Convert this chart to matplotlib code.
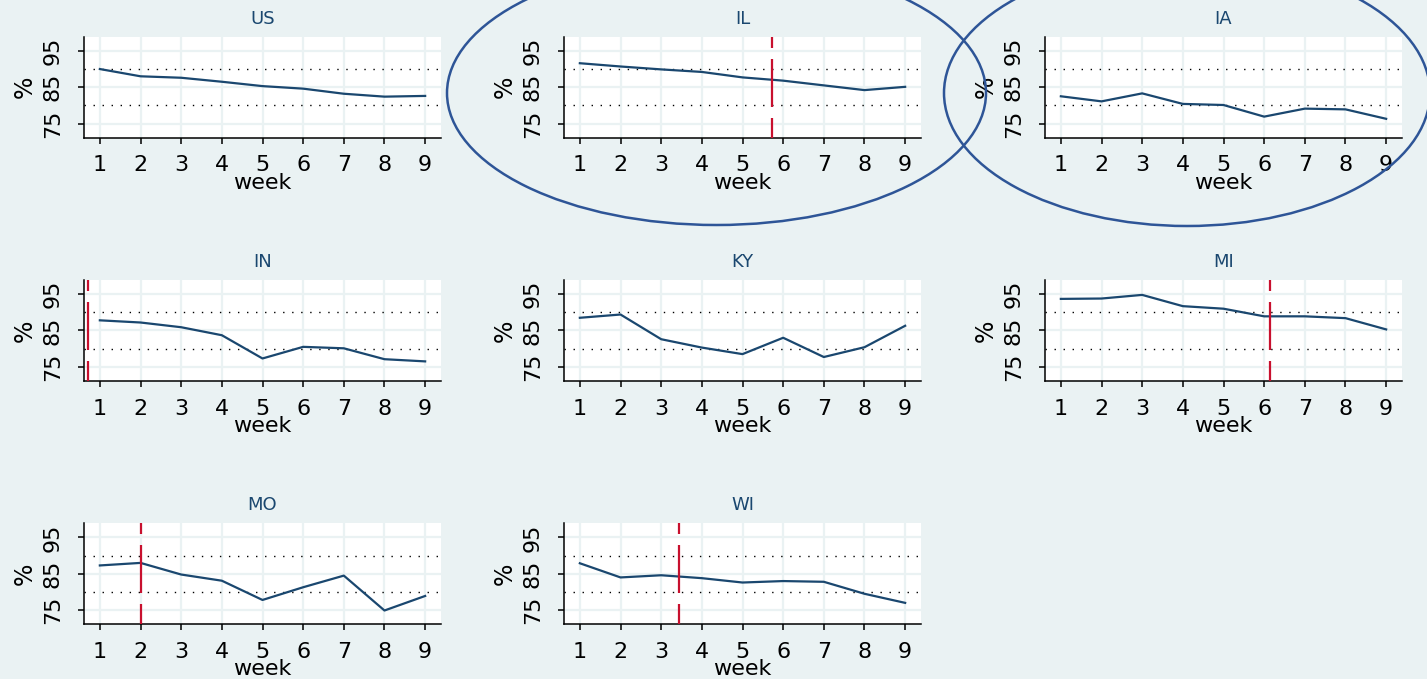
import matplotlib
matplotlib.use("Agg")
import matplotlib.pyplot as plt
from matplotlib.patches import Ellipse

# ---- data ----
weeks = [1, 2, 3, 4, 5, 6, 7, 8, 9]
states = ["US", "IL", "IA", "IN", "KY", "MI", "MO", "WI"]
us = [90.0, 88.0, 87.6, 86.5, 85.3, 84.6, 83.2, 82.4, 82.6]
il = [91.6, 90.7, 89.9, 89.2, 87.7, 86.8, 85.5, 84.2, 85.1]
ia = [82.5, 81.1, 83.3, 80.4, 80.1, 76.9, 79.1, 78.9, 76.3]
in_ = [87.8, 87.2, 85.9, 83.7, 77.3, 80.5, 80.1, 77.1, 76.5]
ky = [88.5, 89.4, 82.6, 80.3, 78.5, 83.0, 77.7, 80.4, 86.3]
mi = [93.7, 93.8, 94.8, 91.7, 91.0, 88.9, 88.9, 88.4, 85.3]
mo = [87.3, 88.0, 84.8, 83.1, 77.8, 81.3, 84.5, 74.9, 78.9]
wi = [87.9, 84.0, 84.6, 83.8, 82.6, 83.0, 82.8, 79.5, 77.0]
series = [us, il, ia, in_, ky, mi, mo, wi]

policy_states = ["IL", "IN", "MI", "MO", "WI"]
policy_weeks = [5.72, 0.70, 6.14, 2.0, 3.43]

yticks = [75, 85, 95]
ref_lines = [80, 90]

# ---- style ----
BG = "#eaf2f3"
LINE = "#1a476f"
RED = "#c8102e"
TITLE = "#1a476f"
ELL = "#2e5597"

plt.rcParams["font.family"] = ["DejaVu Sans"]

W, H = 1427, 679
fig = plt.figure(figsize=(W / 100, H / 100), dpi=100, facecolor=BG)

col_left = [84, 564, 1045]
row_top = [36.7, 280, 523.3]
ax_w = 357
ax_h = 101

for i, (st, vals) in enumerate(zip(states, series)):
    r, c = divmod(i, 3)
    left = col_left[c] / W
    bottom = 1 - (row_top[r] + ax_h) / H
    ax = fig.add_axes([left, bottom, ax_w / W, ax_h / H])
    ax.set_facecolor("white")
    ax.set_xlim(0.61, 9.39)
    ax.set_ylim(71.1, 98.9)
    ax.set_xticks(weeks)
    ax.set_yticks(yticks)
    ax.set_yticklabels([str(t) for t in yticks], rotation=90, va="center")
    ax.grid(True, color=BG, linewidth=1.6, zorder=0)
    ax.set_axisbelow(True)
    for y in ref_lines:
        ax.axhline(y, color="black", linewidth=1.0, linestyle=(0, (1, 5.5)), zorder=1)
    ax.plot(weeks, vals, color=LINE, linewidth=1.6, zorder=3)
    if st in policy_states:
        pw = policy_weeks[policy_states.index(st)]
        ax.axvline(pw, color=RED, linewidth=1.6,
                   linestyle=(12.6, (21.6, 4.95)), zorder=4)
    for s in ["top", "right"]:
        ax.spines[s].set_visible(False)
    for s in ["left", "bottom"]:
        ax.spines[s].set_linewidth(1.1)
        ax.spines[s].set_color("black")
    ax.tick_params(axis="x", length=4.3, width=1.1, pad=8.5, labelsize=16)
    ax.tick_params(axis="y", length=4.3, width=1.1, pad=11, labelsize=16)
    ax.set_xlabel("week", fontsize=16, labelpad=-2)
    ax.set_ylabel("%", fontsize=17, labelpad=4)
    ax.set_title(st, fontsize=13, color=TITLE, pad=9.5)

# annotation ellipses around IL and IA (display pixels)
fig.add_artist(Ellipse((716.5, H - 93), 539, 264, fill=False,
                       edgecolor=ELL, linewidth=1.8, transform=None))
fig.add_artist(Ellipse((1187, H - 93), 486, 266, fill=False,
                       edgecolor=ELL, linewidth=1.8, transform=None))

fig.savefig("out.png", dpi=100, facecolor=BG)
